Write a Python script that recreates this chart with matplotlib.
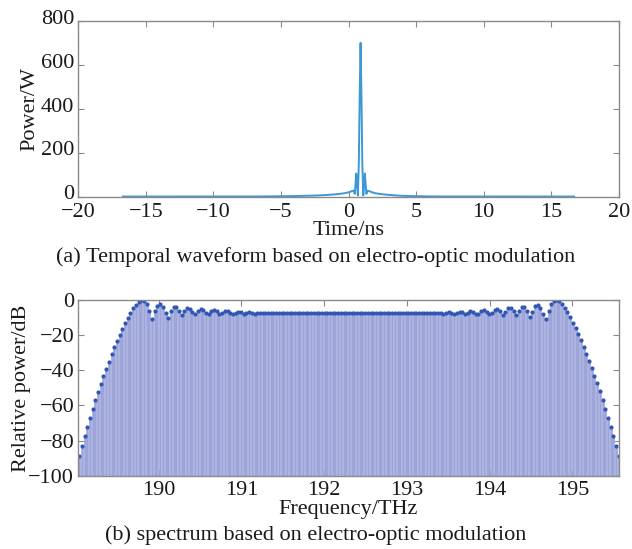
import matplotlib
matplotlib.use('Agg')
import matplotlib.pyplot as plt
import matplotlib.transforms as mtransforms
import numpy as np

plt.rcParams['font.family'] = ['Liberation Serif', 'DejaVu Serif']
plt.rcParams['font.size'] = 16

# (a) temporal waveform
time_ns = [-16.7, -6.8, -5.8, -4.8, -3.8, -2.8, -2.3, -1.8, -1.3, -0.8,
           -0.3, 0.05, 0.25, 0.38, 0.46, 0.52, 0.57, 0.62, 0.69, 0.76,
           0.83, 0.89, 0.95, 1.02, 1.09, 1.16, 1.21, 1.26, 1.32, 1.40,
           1.55, 1.9, 2.4, 2.9, 3.4, 3.9, 4.9, 5.9, 6.9, 16.7]
power_w = [0, 0.3, 0.8, 1.5, 2.5, 4, 5, 6.5, 8.5, 11,
           15, 20, 25, 27, 12, 60, 105, 60, 5, 150,
           480, 700, 480, 150, 5, 60, 105, 60, 12, 27,
           24, 16, 11, 8, 5.5, 3.5, 1.8, 0.8, 0.3, 0]

# (b) comb spectrum, one value per comb line (dB)
F_START = 189.04   # THz, first comb line
F_STEP = 0.0326    # THz, line spacing
rel_db = [
    -89, -83, -77.5, -72, -67, -62, -57, -52.5, -48, -43.5,
    -39, -35, -31, -27, -23.5, -20, -16.5, -13.2, -10.2, -7.4,
    -4.8, -2.6, -1, 0, -0.3, -2.3, -6, -11, -6.5, -3.2,
    -2.5, -4, -7.5, -10, -6.5, -4, -4.2, -6, -8.5, -6,
    -4.8, -5.2, -7, -8.2, -6.2, -5.2, -5.8, -7.5, -8, -6.3,
    -5.8, -6.5, -7.8, -7.6, -6.5, -6.3, -7.2, -7.9, -7.2, -6.6,
    -7, -7.8, -7.5, -6.9, -7.2, -7.7, -7.4, -7.1, -7.4, -7.6,
    -7.3, -7.2, -7.5, -7.5, -7.3, -7.4, -7.5, -7.4, -7.5, -7.4,
    -7.5, -7.5, -7.4, -7.5, -7.5, -7.4, -7.5, -7.5, -7.5, -7.4,
    -7.5, -7.5, -7.5, -7.5, -7.5, -7.5, -7.5, -7.5, -7.5, -7.5,
    -7.5, -7.5, -7.5, -7.5, -7.5, -7.5, -7.5, -7.5, -7.5, -7.5,
    -7.5, -7.5, -7.4, -7.5, -7.5, -7.5, -7.4, -7.5, -7.5, -7.4,
    -7.5, -7.4, -7.5, -7.5, -7.4, -7.4, -7.3, -7.5, -7.4, -7.2,
    -7.5, -7.6, -7.3, -7.1, -7.4, -7.7, -7.3, -6.9, -7.3, -7.8,
    -7.4, -6.7, -6.9, -7.9, -7.3, -6.4, -6.6, -7.7, -7.7, -6.2,
    -5.7, -6.6, -8, -7.3, -5.5, -5.3, -6.4, -8.3, -6.8, -4.7,
    -4.5, -6.2, -8.7, -6, -3.8, -4, -6.5, -9.5, -7, -3.5,
    -2.8, -4.5, -8, -11, -6, -2.5, -0.5, 0, -0.6, -2.2,
    -4.5, -7, -9.8, -12.8, -16, -19.5, -23, -26.5, -30.5, -34.5,
    -38.5, -43, -47.5, -52, -57, -62, -67, -72, -77.5, -83,
    -89,
]
freq_thz = F_START + F_STEP * np.arange(len(rel_db))

SPINE = '#8a8a8a'
TXT = '#1a1a1a'


def style_axes(ax, xpad=4):
    for s in ax.spines.values():
        s.set_color(SPINE)
        s.set_linewidth(1.0)
    ax.tick_params(direction='in', top=True, right=True, length=4,
                   color=SPINE, labelcolor=TXT, labelsize=16)
    ax.tick_params(axis='x', pad=xpad)
    ax.tick_params(axis='y', pad=3)


fig = plt.figure(figsize=(6.32, 5.49), dpi=100)

ax1 = fig.add_axes([0.124, 0.642, 0.855, 0.320])
ax1.plot(time_ns, power_w, color='#3d99d4', linewidth=1.4)
ax1.set_xlim(-20, 20)
ax1.set_ylim(0, 800)
ax1.set_xticks(np.arange(-20, 21, 5))
ax1.set_yticks(np.arange(0, 801, 200))
style_axes(ax1, xpad=5)
# nudge y tick labels up a little so "0" clears the "-20" below it
lift = mtransforms.ScaledTranslation(0, 3 / 72, fig.dpi_scale_trans)
for lab in ax1.yaxis.get_majorticklabels():
    lab.set_transform(lab.get_transform() + lift)
ax1.set_xlabel('Time/ns', fontsize=16, color=TXT, labelpad=-1)
ax1.set_ylabel('Power/W', fontsize=16, color=TXT, labelpad=1)
fig.text(0.5, 1 - 257 / 549, '(a) Temporal waveform based on electro-optic modulation',
         ha='center', va='center', fontsize=16, color=TXT)

ax2 = fig.add_axes([0.124, 0.1335, 0.855, 0.320])
ax2.vlines(freq_thz, -100, rel_db, colors='#9ca4d9', linewidth=1.9)
ax2.plot(freq_thz, rel_db, 'o', color='#3157b4', markersize=3,
         markeredgewidth=0)
ax2.set_xlim(189.03, 195.56)
ax2.set_ylim(-100, 0)
ax2.set_xticks(np.arange(190, 196, 1))
ax2.set_yticks(np.arange(-100, 1, 20))
style_axes(ax2)
ax2.set_xlabel('Frequency/THz', fontsize=16, color=TXT, labelpad=0)
ax2.set_ylabel('Relative power/dB', fontsize=16, color=TXT, labelpad=-2)
fig.text(0.5, 1 - 535 / 549, '(b) spectrum based on electro-optic modulation',
         ha='center', va='center', fontsize=16, color=TXT)

fig.savefig('out.png', dpi=100)
